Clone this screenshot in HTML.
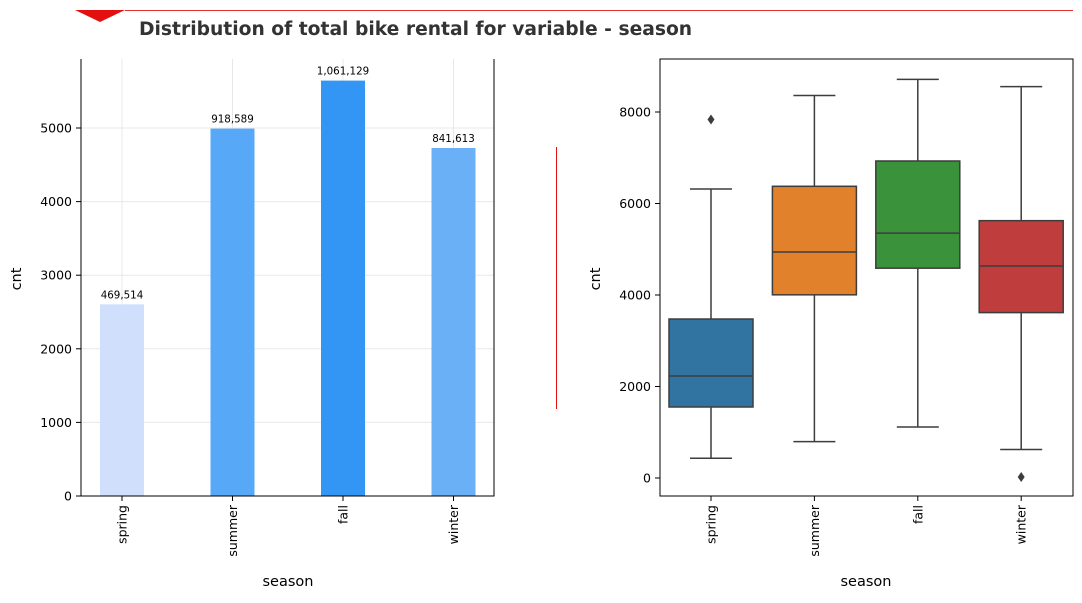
<!DOCTYPE html>
<html><head><meta charset="utf-8"><style>
body{margin:0;background:#fff;font-family:"DejaVu Sans","Liberation Sans",sans-serif}
svg text{font-family:"DejaVu Sans","Liberation Sans",sans-serif}
</style></head><body>
<svg id="s" width="1082" height="599" xmlns="http://www.w3.org/2000/svg">
<polygon points="75,10 125,10 100,22" fill="#e31010"/>
<line x1="125" y1="10.5" x2="1073" y2="10.5" stroke="#e63030" stroke-width="1"/>
<text x="139" y="35" font-size="18.7" font-weight="bold" fill="#333">Distribution of total bike rental for variable - season</text>
<line x1="556.5" y1="147" x2="556.5" y2="409" stroke="#e31010"/>
<g id="left"></g>
<g id="right"></g>
</svg>
<script>
const categories=["spring","summer","fall","winter"];
const meanValues=[2604,4992,5644,4728];
const totalLabels=["469,514","918,589","1,061,129","841,613"];
const barColors=["#cfdffc","#58a8f8","#3396f4","#6ab0f7"];
const leftTicks=[0,1000,2000,3000,4000,5000];
const boxLow=[431,795,1115,623];
const boxQ1=[1552,4004,4586,3615];
const boxMed=[2230,4941,5353,4634];
const boxQ3=[3475,6376,6929,5625];
const boxHigh=[6317,8362,8714,8555];
const outlierCat=[0,3];
const outlierVal=[7836,22];
const boxColors=["#3274a1","#e1812c","#3a923a","#c03d3e"];
const rightTicks=[0,2000,4000,6000,8000];
const NS="http://www.w3.org/2000/svg";
function mk(p,t,a,txt){const e=document.createElementNS(NS,t);for(const k in a)e.setAttribute(k,a[k]);if(txt!=null)e.textContent=txt;p.appendChild(e);return e;}
// left
const L=document.getElementById('left');
const lx=i=>122+i*110.5, ly=v=>496-v*0.0736;
leftTicks.forEach(t=>{const g=mk(L,'line',{x1:81,x2:494,y1:ly(t),y2:ly(t),stroke:'#e8e8e8'});


const tk=mk(L,'line',{x1:76,x2:81,y1:ly(t),y2:ly(t),stroke:'#000'});


const tl=mk(L,'text',{x:72,y:ly(t)+4.5,'font-size':12.5,'text-anchor':'end'},String(t));

});
categories.forEach((c,i)=>{const g=mk(L,'line',{x1:lx(i),x2:lx(i),y1:59,y2:496,stroke:'#e8e8e8'});

});
categories.forEach((c,i)=>{
const b=mk(L,'rect',{x:lx(i)-22,y:ly(meanValues[i]),width:44,height:496-ly(meanValues[i]),fill:barColors[i]});


const v=mk(L,'text',{x:lx(i),y:ly(meanValues[i])-6,'font-size':10.3,'text-anchor':'middle'},totalLabels[i]);


const tk=mk(L,'line',{x1:lx(i),x2:lx(i),y1:496,y2:501,stroke:'#000'});


const t=mk(L,'text',{x:0,y:0,'font-size':12.5,'text-anchor':'end',transform:`translate(${lx(i)+4.5},505) rotate(-90)`},c);

});
const ls=mk(L,'path',{d:'M81,59V496H494V59',fill:'none',stroke:'#000','stroke-width':1});


let a=mk(L,'text',{x:288,y:586,'font-size':14.5,'text-anchor':'middle'},'season');


a=mk(L,'text',{x:0,y:0,'font-size':14.5,'text-anchor':'middle',transform:'translate(21,279) rotate(-90)'},'cnt');


// right
const R=document.getElementById('right');
const rx=i=>711+i*103.4, ry=v=>478-v*0.04575;
rightTicks.forEach(t=>{const tk=mk(R,'line',{x1:655,x2:660,y1:ry(t),y2:ry(t),stroke:'#000'});


const tl=mk(R,'text',{x:651,y:ry(t)+4.5,'font-size':12.5,'text-anchor':'end'},String(t));

});
categories.forEach((c,i)=>{const x=rx(i);
const w=mk(R,'path',{d:`M${x},${ry(boxHigh[i])}V${ry(boxQ3[i])}M${x},${ry(boxQ1[i])}V${ry(boxLow[i])}M${x-21},${ry(boxHigh[i])}H${x+21}M${x-21},${ry(boxLow[i])}H${x+21}`,stroke:'#3d3d3d','stroke-width':1.5,fill:'none'});


const b=mk(R,'rect',{x:x-42,y:ry(boxQ3[i]),width:84,height:ry(boxQ1[i])-ry(boxQ3[i]),fill:boxColors[i],stroke:'#3d3d3d','stroke-width':1.5});


const m=mk(R,'line',{x1:x-42,x2:x+42,y1:ry(boxMed[i]),y2:ry(boxMed[i]),stroke:'#3d3d3d','stroke-width':1.5});


const tk=mk(R,'line',{x1:x,x2:x,y1:496,y2:501,stroke:'#000'});


const t=mk(R,'text',{x:0,y:0,'font-size':12.5,'text-anchor':'end',transform:`translate(${x+4.5},505) rotate(-90)`},c);

});
outlierCat.forEach((ci,k)=>{const x=rx(ci),y=ry(outlierVal[k]);
const o=mk(R,'polygon',{points:`${x},${y-5} ${x+3.5},${y} ${x},${y+5} ${x-3.5},${y}`,fill:'#3d3d3d'});

});
const rs=mk(R,'rect',{x:660,y:59,width:413,height:437,fill:'none',stroke:'#000'});


a=mk(R,'text',{x:866,y:586,'font-size':14.5,'text-anchor':'middle'},'season');


a=mk(R,'text',{x:0,y:0,'font-size':14.5,'text-anchor':'middle',transform:'translate(600,279) rotate(-90)'},'cnt');


</script>
</body></html>
